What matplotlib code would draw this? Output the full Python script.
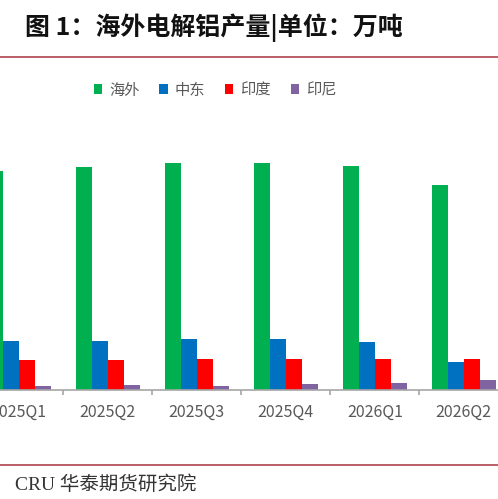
import numpy as np
import matplotlib.pyplot as plt
from matplotlib.lines import Line2D

plt.rcParams['font.family'] = ['Noto Sans CJK SC', 'DejaVu Sans']

quarters = ['2025Q1', '2025Q2', '2025Q3', '2025Q4', '2026Q1', '2026Q2']
series_names = ['海外', '中东', '印度', '印尼']
overseas = [746, 757, 773, 773, 762, 698]
mideast = [168, 168, 172, 173, 163, 94]
india = [102, 102, 105, 105, 104, 105]
indonesia = [14, 16, 14, 19, 25, 34]
colors = ['#00b050', '#0070c0', '#ff0000', '#8064a2']

W, H = 498, 499
fig = plt.figure(figsize=(W / 100, H / 100), dpi=100)

# axes spans full width, baseline at y=390px
base = 1 - 390 / H
top = 1 - 125 / H
ax = fig.add_axes([0, base, 1, top - base])

x = np.arange(len(quarters))
w = 16 / 89
data = [overseas, mideast, india, indonesia]
bars = []
for k, (vals, c) in enumerate(zip(data, colors)):
    b = ax.bar(x + (k - 1.5) * w, vals, width=w, color=c, label=series_names[k])
    bars.append(b)

ax.set_yticks([])
for s in ['top', 'left', 'right']:
    ax.spines[s].set_visible(False)
ax.spines['bottom'].set_color('#a6a6a6')
ax.spines['bottom'].set_linewidth(1.2)

ax.set_xticks(x)
ax.set_xticklabels(quarters)
ax.set_xticks(np.arange(-0.5, len(quarters) + 0.5), minor=True)
ax.tick_params(axis='x', which='major', length=0, pad=10, labelsize=11.5, labelcolor='#595959')
ax.tick_params(axis='x', which='minor', length=3.5, width=1.2, color='#a6a6a6', direction='out')

# limits after ticks so they are not widened
ax.set_xlim(-18.8 / 89, (498 - 18.8) / 89)
ax.set_ylim(0, 265 * 3.4)

fig.legend(handles=bars, labels=series_names, loc='center', ncol=4,
           bbox_to_anchor=(215 / W, 1 - 90 / H), frameon=False,
           handlelength=0.55, handleheight=0.55, handletextpad=0.45,
           columnspacing=1.3, fontsize=11, labelcolor='#595959')

fig.text(25 / W, 1 - 28 / H, '图 1：海外电解铝产量|单位：万吨', fontsize=18,
         fontweight='bold', va='center', ha='left', color='#111111')

fig.add_artist(Line2D([0, 1], [1 - 57 / H, 1 - 57 / H], color='#b5525c', lw=1.3))
fig.add_artist(Line2D([0, 1], [1 - 465 / H, 1 - 465 / H], color='#b5525c', lw=1.3))

fig.text(15 / W, 1 - 485 / H, 'CRU 华泰期货研究院', fontsize=14,
         family=['Liberation Serif', 'Noto Sans CJK SC'], fontweight='light',
         va='center', ha='left', color='#333333')

fig.savefig('out.png', dpi=100)
